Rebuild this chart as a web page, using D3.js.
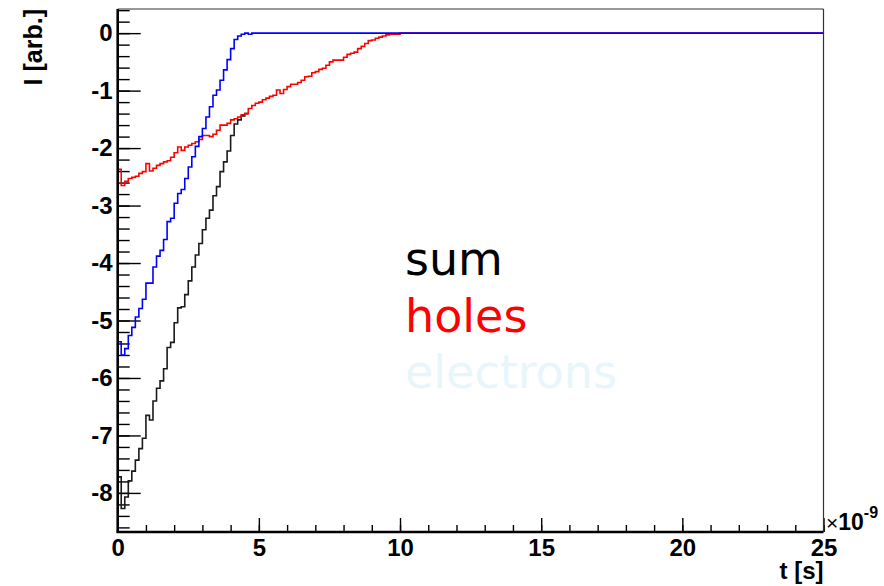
<!DOCTYPE html>
<html>
<head>
<meta charset="utf-8">
<script src="https://cdn.jsdelivr.net/npm/d3@7"></script>
<style>
  body { margin: 0; background: #fff; }
  svg { display: block; }
</style>
</head>
<body>
<svg id="chart" width="884" height="586"></svg>
<script>
// bin width of the histograms (ns), bins start at t = 0
var binWidth = 0.125;
var tRange = [0, 25];
var iRange = [-8.68, 0.42];

// sum of both currents (merges with holes after ~4.5 ns)
var sumValues = [-7.72,-8.27,-8.07,-7.79,-7.62,-7.43,-7.23,-7.05,-6.65,-6.73,
                 -6.40,-6.18,-6.05,-5.84,-5.47,-5.38,-5.04,-4.78,-4.76,-4.55,
                 -4.31,-4.07,-3.86,-3.66,-3.42,-3.22,-3.08,-2.83,-2.67,-2.41,
                 -2.24,-2.05,-1.78,-1.58,-1.51,-1.44,-1.40];
// holes (red), zero after the last listed bin
var holesValues = [-2.37,-2.65,-2.58,-2.53,-2.51,-2.49,-2.44,-2.41,-2.27,-2.40,
                   -2.35,-2.30,-2.27,-2.24,-2.22,-2.16,-2.08,-1.98,-2.04,-1.98,
                   -1.95,-1.92,-1.89,-1.85,-1.78,-1.78,-1.80,-1.76,-1.69,-1.60,
                   -1.60,-1.57,-1.51,-1.49,-1.46,-1.42,-1.40,-1.31,-1.26,-1.22,
                   -1.20,-1.16,-1.13,-1.10,-1.08,-0.99,-1.05,-0.98,-0.93,-0.89,
                   -0.89,-0.86,-0.82,-0.76,-0.75,-0.69,-0.67,-0.63,-0.61,-0.56,
                   -0.50,-0.47,-0.47,-0.47,-0.42,-0.37,-0.35,-0.33,-0.27,-0.23,
                   -0.18,-0.13,-0.12,-0.09,-0.07,-0.05,-0.03,-0.02,-0.02,-0.02];
// electrons (blue), zero after the last listed bin
var electronsValues = [-5.37,-5.60,-5.49,-5.26,-5.12,-4.94,-4.79,-4.63,-4.35,-4.35,
                       -4.07,-3.88,-3.78,-3.59,-3.28,-3.22,-2.96,-2.79,-2.72,-2.53,
                       -2.33,-2.15,-1.97,-1.80,-1.66,-1.46,-1.28,-1.08,-0.99,-0.82,
                       -0.64,-0.46,-0.27,-0.11,-0.05,-0.02,0,-0.02];

var xMajor = [0, 5, 10, 15, 20, 25];
var yMajor = [0, -1, -2, -3, -4, -5, -6, -7, -8];
var legendNames = ["sum", "holes", "electrons"];
var legendColors = ["#000000", "#ff0000", "#e8f6fb"];

var plotLeft = 117.7, plotRight = 823.5, plotTop = 9, plotBottom = 532;

var svg = d3.select("#chart");
var x = d3.scaleLinear().domain(tRange).range([plotLeft, plotRight]);
var y = d3.scaleLinear().domain(iRange).range([plotBottom, plotTop]);

var fmt = function(d){ return String(d); };
var labelFont = "'Liberation Sans', Arial, Helvetica, sans-serif";

// minor ticks first
svg.append("g").attr("transform", "translate(" + plotLeft + ",0)")
    .call(d3.axisLeft(y).tickValues(d3.range(-86, 5, 2).map(function(d){ return d / 10; }))
          .tickSize(-12).tickFormat(""))
    .call(function(g){ g.select(".domain").remove(); });
svg.append("g").attr("transform", "translate(0," + plotBottom + ")")
    .call(d3.axisBottom(x).tickValues(d3.range(0, 26, 1)).tickSize(-7).tickFormat(""))
    .call(function(g){ g.select(".domain").remove(); });

// major ticks + labels
var yAx = svg.append("g").attr("transform", "translate(" + plotLeft + ",0)")
    .call(d3.axisLeft(y).tickValues(yMajor).tickSize(-23).tickPadding(5).tickFormat(fmt));
var xAx = svg.append("g").attr("transform", "translate(0," + plotBottom + ")")
    .call(d3.axisBottom(x).tickValues(xMajor).tickSize(-14).tickPadding(7).tickFormat(fmt));

[yAx, xAx].forEach(function(g){
    g.select(".domain").remove();
    g.attr("font-size", null).attr("font-family", null);
});
svg.selectAll(".tick line").attr("stroke", "#000").attr("stroke-width", 1.4);
svg.selectAll(".tick text")
    .style("font-family", labelFont)
    .style("font-weight", "bold")
    .style("font-size", "24px")
    .attr("fill", "#000");

// frame
svg.append("line").attr("x1", plotLeft).attr("x2", plotRight).attr("y1", plotTop).attr("y2", plotTop)
    .attr("stroke", "#333").attr("stroke-width", 1.2);
svg.append("line").attr("x1", plotRight).attr("x2", plotRight).attr("y1", plotTop).attr("y2", plotBottom)
    .attr("stroke", "#333").attr("stroke-width", 1.2);

// histogram outlines
var stepLine = d3.line()
    .x(function(d){ return x(d[0]); })
    .y(function(d){ return y(d[1]); })
    .curve(d3.curveStepAfter);

var histPoints = function(vals, zeroTail){
    var pts = vals.map(function(v, i){ return [i * binWidth, v]; });
    var end = vals.length * binWidth;
    if (zeroTail) {
        pts.push([end, 0]);
        pts.push([tRange[1], 0]);
    } else {
        pts.push([end, vals[vals.length - 1]]);
    }
    return pts;
};

var series = [
    {vals: sumValues, color: "#1a1a1a", tail: false},
    {vals: holesValues, color: "#ff0000", tail: true},
    {vals: electronsValues, color: "#0000ff", tail: true}
];
svg.selectAll("path.hist").data(series).enter().append("path")
    .attr("class", "hist")
    .attr("d", function(d){ return stepLine(histPoints(d.vals, d.tail)); })
    .attr("fill", "none")
    .attr("stroke", function(d){ return d.color; })
    .attr("stroke-width", 1.6);

// thick axis lines on top
svg.append("line").attr("x1", plotLeft).attr("x2", plotLeft).attr("y1", plotTop).attr("y2", plotBottom + 1)
    .attr("stroke", "#000").attr("stroke-width", 2.6);
svg.append("line").attr("x1", plotLeft - 1).attr("x2", plotRight).attr("y1", plotBottom).attr("y2", plotBottom)
    .attr("stroke", "#000").attr("stroke-width", 2.4);

// axis titles
svg.append("text")
    .attr("x", plotRight).attr("y", 579)
    .attr("text-anchor", "end")
    .style("font-family", labelFont)
    .style("font-weight", "bold").style("font-size", "24px")
    .text("t [s]");
svg.append("text")
    .attr("transform", "translate(42," + plotTop + ") rotate(-90)")
    .attr("text-anchor", "end")
    .style("font-family", labelFont)
    .style("font-weight", "bold").style("font-size", "25px")
    .text("I [arb.]");

// exponent of the time axis
var expo = svg.append("text")
    .attr("x", 826).attr("y", 530)
    .style("font-family", labelFont)
    .style("font-size", "21px");
expo.append("tspan").text("\u00d7");
expo.append("tspan").style("font-weight", "bold").style("font-size", "23px").text("10");
expo.append("tspan").style("font-weight", "bold").style("font-size", "16px").attr("dy", -12).text("-9");

// legend
svg.selectAll("text.legend").data(legendNames).enter().append("text")
    .attr("class", "legend")
    .attr("x", 405)
    .attr("y", function(d, i){ return 275 + i * 56.5; })
    .style("font-family", "'DejaVu Sans', sans-serif")
    .style("font-size", "46px")
    .attr("fill", function(d, i){ return legendColors[i]; })
    .text(function(d){ return d; });
</script>
</body>
</html>
